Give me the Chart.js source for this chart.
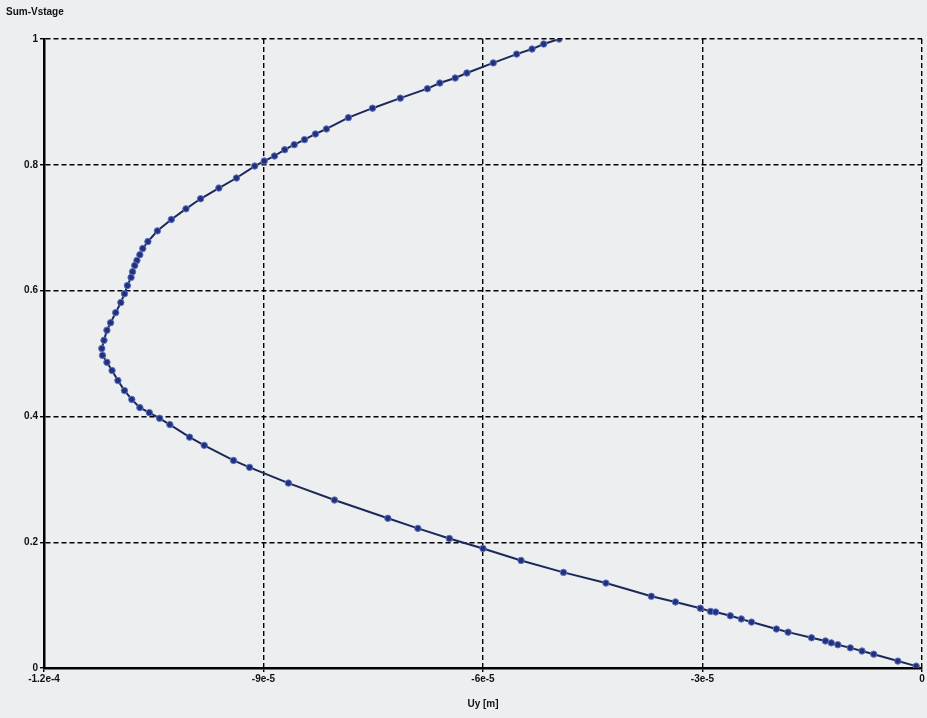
<!DOCTYPE html>
<html>
<head>
<meta charset="utf-8">
<script src="https://cdn.jsdelivr.net/npm/chart.js@4.4.0/dist/chart.umd.min.js"></script>
<style>
  html, body { margin: 0; padding: 0; background: #eceeef; }
  #wrap { width: 927px; height: 718px; position: relative; }
</style>
</head>
<body>
<div id="wrap"><canvas id="c" width="927" height="718"></canvas></div>
<script>
// Uy displacement [m] (x) and relative stage height (y), top to bottom
const uy = [
  -4.96e-5, -5.17e-5, -5.33e-5, -5.54e-5, -5.86e-5, -6.22e-5, -6.38e-5, -6.59e-5, -6.76e-5, -7.13e-5,
  -7.51e-5, -7.84e-5, -8.14e-5, -8.29e-5, -8.44e-5, -8.58e-5, -8.71e-5, -8.85e-5, -8.99e-5, -9.12e-5,
  -9.37e-5, -9.61e-5, -9.86e-5, -10.06e-5, -10.26e-5, -10.45e-5, -10.58e-5, -10.65e-5, -10.69e-5, -10.73e-5,
  -10.76e-5, -10.79e-5, -10.81e-5, -10.86e-5, -10.90e-5, -10.95e-5, -11.02e-5, -11.09e-5, -11.14e-5, -11.18e-5,
  -11.21e-5, -11.20e-5, -11.14e-5, -11.07e-5, -10.99e-5, -10.90e-5, -10.80e-5, -10.69e-5, -10.56e-5, -10.42e-5,
  -10.28e-5, -10.01e-5, -9.81e-5, -9.41e-5, -9.19e-5, -8.66e-5, -8.03e-5, -7.30e-5, -6.89e-5, -6.46e-5,
  -6.00e-5, -5.48e-5, -4.90e-5, -4.32e-5, -3.70e-5, -3.37e-5, -3.03e-5, -2.89e-5, -2.82e-5, -2.62e-5,
  -2.47e-5, -2.33e-5, -1.99e-5, -1.83e-5, -1.51e-5, -1.32e-5, -1.24e-5, -1.15e-5, -0.98e-5, -0.82e-5,
  -0.66e-5, -0.33e-5, -0.08e-5
];
const stage = [
  1.000, 0.992, 0.984, 0.976, 0.962, 0.946, 0.938, 0.930, 0.921, 0.906,
  0.890, 0.875, 0.857, 0.849, 0.840, 0.832, 0.824, 0.814, 0.806, 0.798,
  0.779, 0.763, 0.746, 0.730, 0.713, 0.695, 0.678, 0.667, 0.657, 0.648,
  0.640, 0.630, 0.621, 0.608, 0.595, 0.581, 0.565, 0.549, 0.537, 0.521,
  0.508, 0.497, 0.486, 0.473, 0.457, 0.441, 0.427, 0.414, 0.406, 0.397,
  0.387, 0.367, 0.354, 0.330, 0.319, 0.294, 0.267, 0.238, 0.222, 0.206,
  0.190, 0.171, 0.152, 0.135, 0.114, 0.105, 0.095, 0.090, 0.089, 0.083,
  0.078, 0.073, 0.062, 0.057, 0.048, 0.043, 0.040, 0.037, 0.032, 0.027,
  0.022, 0.011, 0.003
];
const xTickValues = [-1.2e-4, -9e-5, -6e-5, -3e-5, 0];
const xTickLabels = ['-1.2e-4', '-9e-5', '-6e-5', '-3e-5', '0'];
const yTickValues = [0, 0.2, 0.4, 0.6, 0.8, 1];
const yTickLabels = ['0', '0.2', '0.4', '0.6', '0.8', '1'];
const titleText = 'Sum-Vstage';
const xTitle = 'Uy [m]';

const points = uy.map((v, i) => ({ x: v, y: stage[i] }));

const bgPlugin = {
  id: 'bg',
  beforeDraw(chart) {
    const ctx = chart.ctx;
    ctx.save();
    ctx.fillStyle = '#eceeef';
    ctx.fillRect(0, 0, chart.width, chart.height);
    ctx.restore();
  }
};

// Draws the x-axis tick labels at the positions given by the x scale
const xLabelPlugin = {
  id: 'xLabels',
  afterDraw(chart) {
    const scale = chart.scales.x;
    const ctx = chart.ctx;
    ctx.save();
    ctx.fillStyle = '#111';
    ctx.font = 'bold 10px "Liberation Sans", Arial, sans-serif';
    ctx.textAlign = 'center';
    ctx.textBaseline = 'middle';
    const y = scale.top + 11;
    xTickValues.forEach((v, i) => {
      ctx.fillText(xTickLabels[i], scale.getPixelForValue(v), y);
    });
    ctx.restore();
  }
};

const font = { family: 'Liberation Sans, Arial, sans-serif', size: 10, weight: 'bold' };

new Chart(document.getElementById('c'), {
  type: 'scatter',
  data: {
    datasets: [{
      data: points,
      showLine: true,
      borderColor: '#1c2858',
      borderWidth: 2,
      pointRadius: 3.2,
      pointBackgroundColor: '#24307c',
      pointBorderColor: '#5a74c4',
      pointBorderWidth: 1,
      tension: 0
    }]
  },
  options: {
    responsive: false,
    animation: false,
    devicePixelRatio: 1,
    layout: { padding: { left: 6, right: 3, top: 0, bottom: 8 } },
    plugins: {
      legend: { display: false },
      tooltip: { enabled: false },
      title: {
        display: true,
        text: titleText,
        align: 'start',
        color: '#111',
        font: { family: 'Liberation Sans, Arial, sans-serif', size: 10, weight: 'bold' },
        padding: { top: 6, bottom: 21 }
      }
    },
    scales: {
      x: {
        type: 'linear',
        min: -1.2e-4,
        max: 0,
        afterBuildTicks(scale) { scale.ticks = xTickValues.map(v => ({ value: v })); },
        afterFit(scale) { scale.height = 42; },
        ticks: {
          display: false,
          autoSkip: false
        },
        grid: {
          color: '#000',
          lineWidth: 1.4,
          tickLength: 4,
          tickColor: '#000'
        },
        border: { display: true, color: '#000', width: 2.5, dash: [5, 3] },
        title: { display: true, text: xTitle, color: '#111', font: font, padding: { top: 4, bottom: 0 } }
      },
      y: {
        type: 'linear',
        min: 0,
        max: 1,
        afterBuildTicks(scale) { scale.ticks = yTickValues.map(v => ({ value: v })); },
        afterFit(scale) { scale.width = 38; },
        ticks: {
          color: '#111',
          font: font,
          autoSkip: false,
          padding: 2,
          callback(value, index) {
            return yTickLabels[index];
          }
        },
        grid: {
          color: '#000',
          lineWidth: 1.4,
          tickLength: 4,
          tickColor: '#000'
        },
        border: { display: true, color: '#000', width: 2.5, dash: [5, 3] }
      }
    }
  },
  plugins: [bgPlugin, xLabelPlugin]
});
</script>
</body>
</html>
